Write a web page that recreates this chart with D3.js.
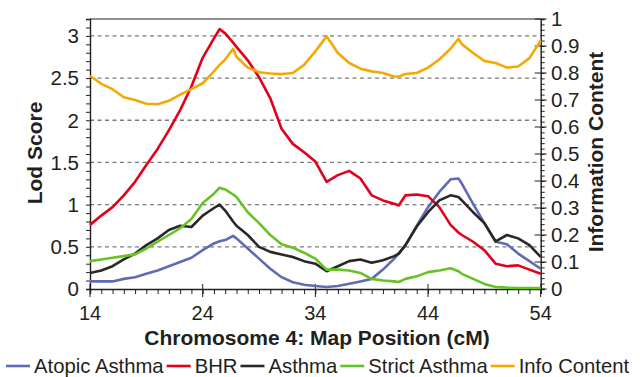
<!DOCTYPE html>
<html>
<head>
<meta charset="utf-8">
<script src="https://cdn.jsdelivr.net/npm/d3@7"></script>
<style>
  body { margin: 0; background: #fff; }
  svg { display: block; font-family: "Liberation Sans", Arial, Helvetica, sans-serif; }
</style>
</head>
<body>
<div id="chart"></div>
<script>
// map positions (cM) shared by every series
const mapPos = [14, 15, 16, 17, 18, 19, 20, 21, 22, 23, 24, 25, 25.5, 26, 26.7, 27, 28, 29, 30, 31, 32, 33, 34,
  35, 36, 37, 38, 39, 40, 41, 41.4, 42, 43, 44, 45, 46, 46.7, 47, 48, 49, 50, 51, 52, 53, 54];

// lod scores
const atopicAsthma = [0.09, 0.09, 0.09, 0.12, 0.14, 0.18, 0.22, 0.27, 0.32, 0.37, 0.46, 0.54, 0.565, 0.58, 0.63, 0.60, 0.48, 0.36, 0.24, 0.14, 0.08, 0.05, 0.036,
  0.024, 0.036, 0.063, 0.09, 0.12, 0.23, 0.36, 0.42, 0.52, 0.75, 0.97, 1.15, 1.30, 1.31, 1.25, 1.01, 0.78, 0.56, 0.53, 0.42, 0.33, 0.24];
const bhr = [0.76, 0.87, 0.97, 1.11, 1.27, 1.47, 1.66, 1.88, 2.12, 2.40, 2.74, 2.97, 3.08, 3.03, 2.92, 2.87, 2.71, 2.51, 2.26, 1.90, 1.72, 1.62, 1.51,
  1.27, 1.35, 1.40, 1.31, 1.11, 1.05, 1.01, 0.99, 1.11, 1.12, 1.10, 0.97, 0.76, 0.67, 0.64, 0.56, 0.46, 0.30, 0.27, 0.28, 0.23, 0.18];
const asthma = [0.19, 0.22, 0.27, 0.35, 0.42, 0.52, 0.60, 0.70, 0.75, 0.735, 0.87, 0.96, 1.00, 0.93, 0.80, 0.75, 0.64, 0.50, 0.44, 0.41, 0.38, 0.33, 0.30,
  0.21, 0.27, 0.33, 0.35, 0.31, 0.34, 0.39, 0.42, 0.52, 0.74, 0.91, 1.05, 1.11, 1.09, 1.05, 0.91, 0.78, 0.565, 0.64, 0.60, 0.52, 0.38];
const strictAsthma = [0.33, 0.35, 0.37, 0.39, 0.41, 0.48, 0.56, 0.64, 0.72, 0.83, 1.02, 1.13, 1.20, 1.18, 1.12, 1.09, 0.91, 0.78, 0.64, 0.53, 0.49, 0.43, 0.36,
  0.23, 0.23, 0.22, 0.19, 0.12, 0.10, 0.09, 0.083, 0.12, 0.15, 0.20, 0.22, 0.245, 0.21, 0.18, 0.12, 0.06, 0.024, 0.016, 0.012, 0.012, 0.012];
// information content (right axis)
const infoContent = [0.79, 0.76, 0.74, 0.71, 0.70, 0.686, 0.684, 0.697, 0.72, 0.74, 0.762, 0.806, 0.83, 0.85, 0.89, 0.86, 0.82, 0.803, 0.798, 0.796, 0.80, 0.83, 0.88,
  0.936, 0.874, 0.837, 0.816, 0.806, 0.80, 0.787, 0.787, 0.796, 0.80, 0.82, 0.85, 0.89, 0.927, 0.907, 0.874, 0.845, 0.837, 0.82, 0.824, 0.855, 0.92];

const xTicks = [14, 24, 34, 44, 54];
const lodTicks = [0, 0.5, 1, 1.5, 2, 2.5, 3];
const infoTicks = [0, 0.1, 0.2, 0.3, 0.4, 0.5, 0.6, 0.7, 0.8, 0.9, 1];

const seriesNames = ["Atopic Asthma", "BHR", "Asthma", "Strict Asthma", "Info Content"];
const seriesColors = ["#5f6bb3", "#e3001b", "#2a2727", "#68c224", "#f4a900"];

function drawChart() {
  const w = 640, h = 377;
  const left = 90, right = 540.7, top = 19, bottom = 289;

  const svg = d3.select("#chart").append("svg").attr("width", w).attr("height", h);

  const x = d3.scaleLinear().domain([14, 54]).range([left, right]);
  const yLod = d3.scaleLinear().domain([0, 3.2]).range([bottom, top]);
  const yInfo = d3.scaleLinear().domain([0, 1]).range([bottom, top]);

  // dashed grid at the lod ticks
  svg.append("g").selectAll("line").data(lodTicks.filter(d => d > 0)).enter().append("line")
    .attr("x1", left).attr("x2", right)
    .attr("y1", d => yLod(d)).attr("y2", d => yLod(d))
    .attr("stroke", "#7a7a7a").attr("stroke-width", 1.3).attr("stroke-dasharray", "4,3.5");

  // left axis, minor ticks every 0.1
  const leftAxis = d3.axisLeft(yLod).tickValues(d3.range(0, 3.21, 0.1)).tickSize(4).tickFormat("");
  svg.append("g").attr("transform", `translate(${left},0)`).call(leftAxis);
  svg.append("g").selectAll("text").data(lodTicks).enter().append("text")
    .attr("x", 79).attr("y", d => yLod(d)).attr("dy", "0.36em")
    .attr("text-anchor", "end").attr("font-size", 20.5).attr("fill", "#231f20")
    .text(d => d);

  // right axis, minor ticks every 0.02, majors crossing the line
  const rightAxis = d3.axisRight(yInfo).tickValues(d3.range(0, 1.001, 0.02)).tickSize(4).tickFormat("");
  svg.append("g").attr("transform", `translate(${right},0)`).call(rightAxis);
  svg.append("g").selectAll("line").data(infoTicks).enter().append("line")
    .attr("x1", right - 6).attr("x2", right + 6)
    .attr("y1", d => yInfo(d)).attr("y2", d => yInfo(d))
    .attr("stroke", "#231f20").attr("stroke-width", 1);
  svg.append("g").selectAll("text").data(infoTicks).enter().append("text")
    .attr("x", 551).attr("y", d => yInfo(d)).attr("dy", "0.36em")
    .attr("font-size", 20.5).attr("fill", "#231f20")
    .text(d => d);

  // bottom axis, minor every 1 cM
  const bottomAxis = d3.axisBottom(x).tickValues(d3.range(14, 54.1, 1)).tickSize(5).tickFormat("");
  svg.append("g").attr("transform", `translate(0,${bottom})`).call(bottomAxis);
  svg.append("g").selectAll("line").data(xTicks).enter().append("line")
    .attr("x1", d => x(d)).attr("x2", d => x(d))
    .attr("y1", bottom - 5).attr("y2", bottom + 8)
    .attr("stroke", "#231f20").attr("stroke-width", 1);
  svg.append("g").selectAll("text").data(xTicks).enter().append("text")
    .attr("x", d => x(d)).attr("y", 320)
    .attr("text-anchor", "middle").attr("font-size", 20).attr("fill", "#231f20")
    .text(d => d);

  svg.selectAll(".domain").attr("stroke", "#231f20").attr("stroke-width", 1.4);
  svg.selectAll(".tick line").attr("stroke", "#231f20");

  // top border
  svg.append("line").attr("x1", left).attr("x2", right).attr("y1", top).attr("y2", top)
    .attr("stroke", "#231f20").attr("stroke-width", 1.2);

  // series lines
  const lodSeries = [atopicAsthma, bhr, asthma, strictAsthma];
  lodSeries.forEach(function (vals, i) {
    const line = d3.line().x((d, j) => x(mapPos[j])).y(d => yLod(d));
    svg.append("path").datum(vals).attr("d", line)
      .attr("fill", "none").attr("stroke", seriesColors[i]).attr("stroke-width", 2.6)
      .attr("stroke-linejoin", "round");
  });
  const infoLine = d3.line().x((d, j) => x(mapPos[j])).y(d => yInfo(d));
  svg.append("path").datum(infoContent).attr("d", infoLine)
    .attr("fill", "none").attr("stroke", seriesColors[4]).attr("stroke-width", 2.6)
    .attr("stroke-linejoin", "round");

  // axis titles
  svg.append("text").attr("transform", "translate(42,153) rotate(-90)")
    .attr("text-anchor", "middle").attr("font-size", 21).attr("font-weight", "bold").attr("fill", "#231f20")
    .text("Lod Score");
  svg.append("text").attr("transform", "translate(603,152) rotate(-90)")
    .attr("text-anchor", "middle").attr("font-size", 21).attr("font-weight", "bold").attr("fill", "#231f20")
    .text("Information Content");
  svg.append("text").attr("x", 317).attr("y", 345)
    .attr("text-anchor", "middle").attr("font-size", 21).attr("font-weight", "bold").attr("fill", "#231f20")
    .text("Chromosome 4: Map Position (cM)");

  // legend, laid out left to right
  let lx = 6;
  const ly = 366;
  seriesNames.forEach(function (name, i) {
    svg.append("line").attr("x1", lx).attr("x2", lx + 24).attr("y1", ly).attr("y2", ly)
      .attr("stroke", seriesColors[i]).attr("stroke-width", 2.6);
    const t = svg.append("text").attr("x", lx + 28).attr("y", 373)
      .attr("font-size", 20.3).attr("fill", "#231f20").text(name);
    lx = lx + 28 + t.node().getComputedTextLength() + 3;
  });
}

drawChart();
</script>
</body>
</html>
